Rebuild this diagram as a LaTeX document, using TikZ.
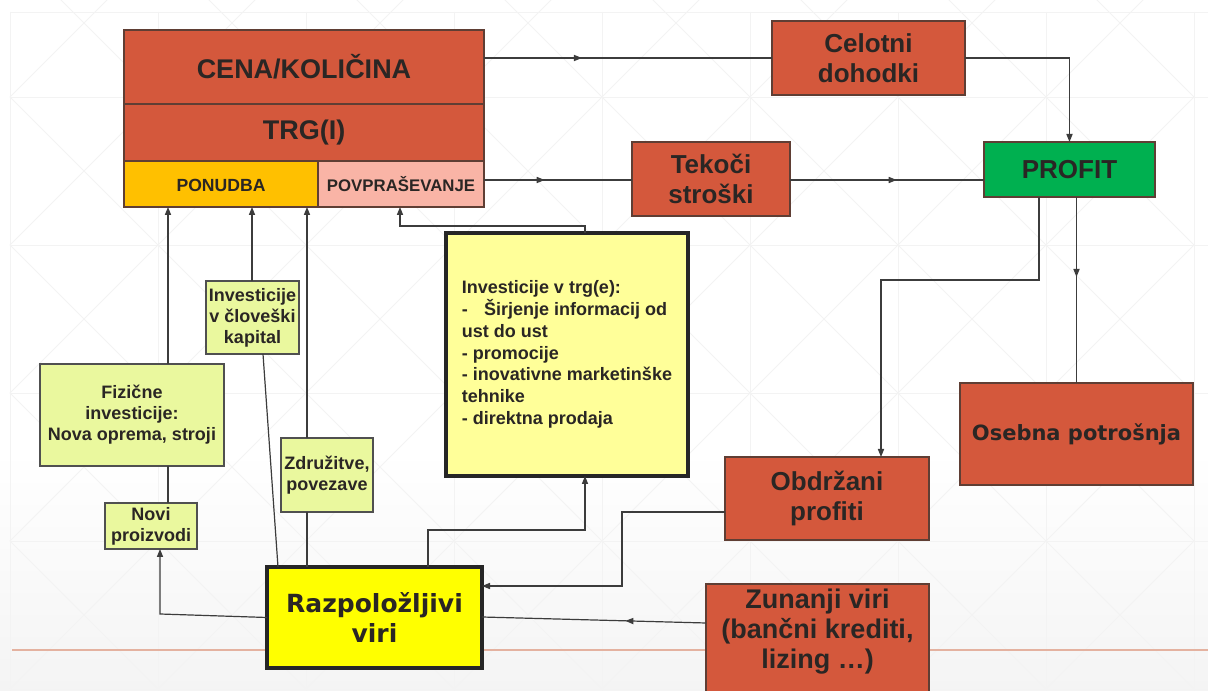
\documentclass[tikz,border=0pt]{standalone}
\usepackage{fontspec}
\setmainfont{Liberation Sans}
\newfontfamily\dvs{DejaVu Sans}
\usetikzlibrary{arrows.meta,decorations.markings}
\definecolor{boxred}{RGB}{212,88,60}
\definecolor{redline}{RGB}{95,62,52}
\definecolor{ponc}{RGB}{255,192,0}
\definecolor{povc}{RGB}{249,180,166}
\definecolor{lgreen}{RGB}{234,248,158}
\definecolor{profc}{RGB}{0,176,80}
\definecolor{yelbright}{RGB}{255,255,0}
\definecolor{yelpale}{RGB}{255,255,153}
\definecolor{txt}{RGB}{42,38,36}
\definecolor{linec}{RGB}{60,60,60}
\definecolor{bgline}{RGB}{243,243,243}
\definecolor{bgbot}{RGB}{244,244,244}
\definecolor{salm}{RGB}{228,178,160}
\tikzset{
  every node/.style={inner sep=0pt, outer sep=0pt, align=center, text=txt},
  bx/.style n args={4}{minimum width={(#3-#1)*0.75pt}, minimum height={(#4-#2)*0.75pt}, at={({(#1+#3)/2},{(#2+#4)/2})}},
  redb/.style={draw=redline, line width=1.1pt, fill=boxred, font=\bfseries\fontsize{19.5pt}{22.5pt}\selectfont},
  greenb/.style={draw=redline, line width=1.1pt, fill=profc, font=\bfseries\fontsize{19.5pt}{22.5pt}\selectfont},
  smallb/.style={draw=linec!90, line width=0.8pt, fill=lgreen, font=\bfseries\fontsize{13.5pt}{15.75pt}\selectfont},
  thickb/.style={draw=black!85, line width=2.6pt},
  conn/.style={draw=linec, line width=0.9pt},
  arr/.style={conn, -{Triangle[length=6pt,width=4.6pt]}},
  midarrow/.style={postaction={decorate}, decoration={markings, mark=at position #1 with {\arrow{Triangle[length=6pt,width=4.6pt]}}}},
}
\begin{document}
\begin{tikzpicture}[x=0.75pt,y=-0.75pt]
\useasboundingbox (0,0) rectangle (1208,691);
\fill[white] (0,0) rectangle (1208,691);
\shade[top color=white,bottom color=bgbot] (0,450) rectangle (1208,691);
% faint background pattern
\foreach \x in {10,158,306,454,602,750,898,1046,1194}
  \draw[bgline, line width=0.6pt] (\x,12) -- (\x,691);
\foreach \y in {12,97,245,393,541,689}
  \draw[bgline, line width=0.6pt] (10,\y) -- (1208,\y);
\foreach \x in {10,158,306,454,602,750,898,1046}
  \foreach \y in {-51,97,245,393,541}
    {\draw[bgline, line width=0.6pt] (\x,\y) -- ++(148,148);
     \draw[bgline, line width=0.6pt] (\x+148,\y) -- ++(-148,148);}
\draw[salm, line width=1pt] (12,650) -- (1208,650);

% nodes
\node[redb, bx={124}{30}{484}{104}, font=\bfseries\fontsize{20.25pt}{24pt}\selectfont] (cena) {CENA/KOLIČINA};
\node[redb, bx={124}{104}{484}{161}, font=\bfseries\fontsize{20.25pt}{24pt}\selectfont] (trg) {TRG(I)};
\node[draw=redline, line width=1.1pt, fill=ponc, bx={124}{161}{318}{207}, font=\bfseries\fontsize{13.2pt}{15pt}\selectfont, text depth=0pt] (pon) {\raisebox{-2.5pt}{PONUDBA}};
\node[draw=redline, line width=1.1pt, fill=povc, bx={318}{161}{484}{207}, font=\bfseries\fontsize{12.6pt}{14pt}\selectfont] (pov) {POVPRAŠEVANJE};
\node[redb, bx={772}{21}{965}{95}] (cel) {Celotni\\dohodki};
\node[redb, bx={632}{142}{790}{216}] (tek) {Tekoči\\stroški};
\node[greenb, bx={984}{142}{1155}{197}] (prof) {PROFIT};
\node[redb, bx={960}{383}{1193}{485}, font=\dvs\bfseries\fontsize{15.75pt}{18pt}\selectfont] (ose) {Osebna potrošnja};
\node[redb, bx={725}{457}{929}{540}] (obd) {Obdržani\\profiti};
\node[redb, bx={706}{584}{929}{705}, font=\bfseries\fontsize{20.25pt}{22.5pt}\selectfont, text depth=24pt] (zun) {Zunanji viri\\(bančni krediti,\\lizing …)};
\node[thickb, fill=yelpale, bx={446}{233}{688}{476}, align=left, font=\bfseries\fontsize{13.5pt}{16.3pt}\selectfont] (inv) {Investicije v trg(e):\\-\hspace{0.9em}Širjenje informacij od\\ust do ust\\- promocije\\- inovativne marketinške\\tehnike\\- direktna prodaja};
\node[thickb, fill=yelbright, bx={267}{567}{482}{668}, font=\dvs\bfseries\fontsize{18.75pt}{22.5pt}\selectfont] (razp) {Razpoložljivi\\viri};
\node[smallb, bx={40}{364}{224}{466}] (fiz) {Fizične\\investicije:\\Nova oprema, stroji};
\node[smallb, bx={206}{281}{299}{354}] (chl) {Investicije\\v človeški\\kapital};
\node[smallb, bx={281}{438}{373}{512}] (zdr) {Združitve,\\povezave};
\node[smallb, bx={105}{503}{197}{549}] (nov) {Novi\\proizvodi};

% helper coordinates
\coordinate (xa) at (168,0);
\coordinate (xb) at (252,0);
\coordinate (xc) at (278,0);
\coordinate (xd) at (263,0);
\coordinate (xe) at (307,0);
\coordinate (kn) at (160,614);
\coordinate (k1) at (428,530);
\coordinate (k2) at (585,530);
\coordinate (k3) at (585,226);
\coordinate (k4) at (400,226);
\coordinate (k5) at (622,512);
\coordinate (k6) at (622,586);
\coordinate (k7) at (706,623);
\coordinate (k8) at (482,617);
\coordinate (k9) at (0,180);
\coordinate (k10) at (1039,280);
\coordinate (k11) at (881,280);

% connectors
\draw[conn, midarrow=0.34] (cena.east |- cel.west) -- (cel.west);
\draw[arr] (cel.east) -| (prof.north);
\draw[conn, midarrow=0.41] (pov.east |- k9) -- (tek.west |- k9);
\draw[conn, midarrow=0.55] (tek.east |- k9) -- (prof.west |- k9);
\draw[conn, midarrow=0.43] (prof.south -| ose.north) -- (ose.north);
\draw[arr] (prof.south -| k10) -- (k10) -- (k11) -- (k11 |- obd.north);
\draw[arr] (obd.west |- k5) -- (k5) -- (k6) -- (k6 -| razp.east);
\draw[conn, midarrow=0.36] (zun.west |- k7) -- (razp.east |- k8);
\draw[arr] (k1 |- razp.north) -- (k1) -- (k2) -- (k2 |- inv.south);
\draw[arr] (k3 |- inv.north) -- (k3) -- (k4) -- (k4 |- pov.south);
\draw[arr] (razp.west) -- (kn) -- (kn |- nov.south);
\draw[conn] (xa |- nov.north) -- (xa |- fiz.south);
\draw[arr] (xa |- fiz.north) -- (xa |- pon.south);
\draw[conn] (xc |- razp.north) -- (xd |- chl.south);
\draw[arr] (xb |- chl.north) -- (xb |- pon.south);
\draw[conn] (xe |- razp.north) -- (xe |- zdr.south);
\draw[arr] (xe |- zdr.north) -- (xe |- pon.south);
\end{tikzpicture}
\end{document}
